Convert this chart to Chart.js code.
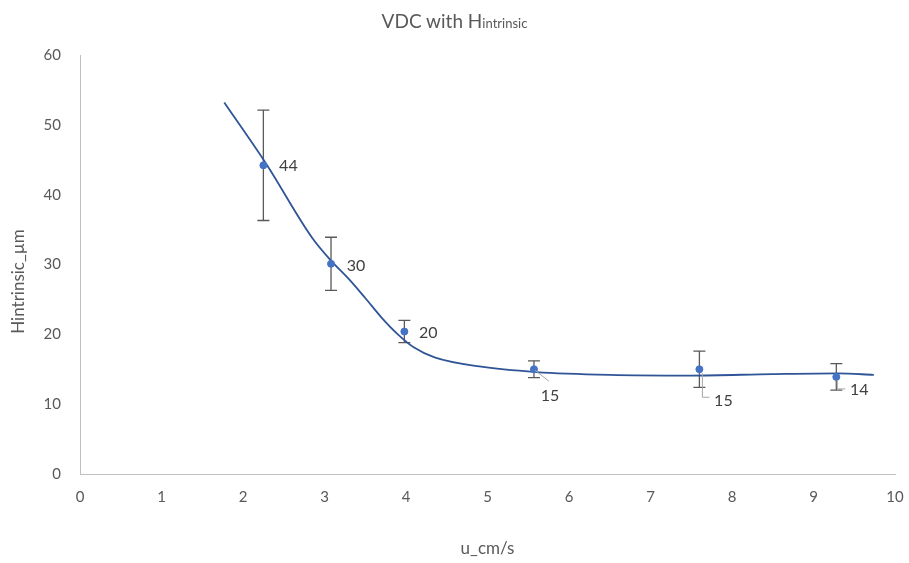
<!DOCTYPE html>
<html>
<head>
<meta charset="utf-8">
<title>VDC with Hintrinsic</title>
<script src="https://cdn.jsdelivr.net/npm/chart.js@4/dist/chart.umd.min.js"></script>
<style>
  body { margin: 0; background: #fff; }
  #wrap { position: relative; width: 909px; height: 563px; }
  #title {
    position: absolute; top: 9px; left: 0; width: 909px; text-align: center;
    font-family: Lato, "Open Sans", sans-serif; color: #595959; font-size: 19px;
  }
  #title small { font-size: 13px; }
</style>
</head>
<body>
<div id="wrap">
  <div id="title">VDC with H<small>intrinsic</small></div>
  <canvas id="chart" width="909" height="563"></canvas>
</div>
<script>
// measured points
const uValues = [2.25, 3.08, 3.98, 5.57, 7.6, 9.28];
const hValues = [44.2, 30.1, 20.4, 15.0, 15.0, 13.9];
const hErrors = [7.9, 3.8, 1.6, 1.2, 2.6, 1.9];

// trendline
const trendU = [1.77, 2.28, 2.85, 3.1, 3.3, 3.5, 3.7, 3.9, 4.1, 4.35, 4.9, 5.6, 6.5, 7.5, 8.5, 9.3, 9.74];
const trendH = [53.2, 44.5, 33.8, 30.3, 27.9, 25.2, 22.4, 20.0, 18.1, 16.7, 15.4, 14.6, 14.2, 14.1, 14.3, 14.4, 14.2];

const xTicks = [0, 1, 2, 3, 4, 5, 6, 7, 8, 9, 10];
const yTicks = [0, 10, 20, 30, 40, 50, 60];

const FONT = 'Lato, "Open Sans", sans-serif';
const yTitle = 'Hintrinsic_µm';

// label placement relative to each point (px), plus optional leader polyline
const labelStyle = [
  { dx: 25, dy: 1 },
  { dx: 25, dy: 2 },
  { dx: 24, dy: 1 },
  { dx: 16, dy: 27, leader: [[1, 1], [15, 12]] },
  { dx: 24, dy: 32, leader: [[3, 4], [3, 28], [10, 28]] },
  { dx: 23, dy: 13, leader: [[1, 3], [1, 12], [9, 12]] }
];

const errorBars = {
  id: 'errorBars',
  beforeDatasetsDraw(chart) {
    const { ctx, scales: { x, y } } = chart;
    ctx.save();
    ctx.strokeStyle = '#595959';
    ctx.lineWidth = 1.3;
    uValues.forEach((u, i) => {
      const px = x.getPixelForValue(u);
      const top = y.getPixelForValue(hValues[i] + hErrors[i]);
      const bot = y.getPixelForValue(hValues[i] - hErrors[i]);
      ctx.beginPath();
      ctx.moveTo(px, top); ctx.lineTo(px, bot);
      ctx.moveTo(px - 6, top); ctx.lineTo(px + 6, top);
      ctx.moveTo(px - 6, bot); ctx.lineTo(px + 6, bot);
      ctx.stroke();
    });
    ctx.restore();
  },
  afterDatasetsDraw(chart) {
    const { ctx, chartArea, scales: { x, y } } = chart;
    ctx.save();
    ctx.font = '16px ' + FONT;
    ctx.fillStyle = '#404040';
    ctx.textAlign = 'center';
    ctx.textBaseline = 'middle';
    uValues.forEach((u, i) => {
      const px = x.getPixelForValue(u);
      const py = y.getPixelForValue(hValues[i]);
      const s = labelStyle[i];
      if (s.leader) {
        ctx.strokeStyle = '#a6a6a6';
        ctx.lineWidth = 1;
        ctx.beginPath();
        s.leader.forEach(([lx, ly], k) => {
          if (k === 0) ctx.moveTo(px + lx, py + ly); else ctx.lineTo(px + lx, py + ly);
        });
        ctx.stroke();
      }
      ctx.fillText(String(Math.round(hValues[i])), px + s.dx, py + s.dy);
    });
    // vertical axis title, sitting a little below the middle of the plot
    ctx.translate(19, (chartArea.top + chartArea.bottom) / 2 + 17);
    ctx.rotate(-Math.PI / 2);
    ctx.font = '17px ' + FONT;
    ctx.fillStyle = '#595959';
    ctx.fillText(yTitle, 0, 0);
    ctx.restore();
  }
};

new Chart(document.getElementById('chart'), {
  type: 'scatter',
  data: {
    datasets: [
      {
        label: 'H',
        data: uValues.map((u, i) => ({ x: u, y: hValues[i] })),
        backgroundColor: '#4472C4',
        borderColor: '#4472C4',
        pointRadius: 3.5,
        order: 0
      },
      {
        label: 'trend',
        data: trendU.map((u, i) => ({ x: u, y: trendH[i] })),
        showLine: true,
        borderColor: '#2F5597',
        borderWidth: 1.8,
        pointRadius: 0,
        cubicInterpolationMode: 'monotone',
        order: 1
      }
    ]
  },
  options: {
    responsive: false,
    animation: false,
    layout: { padding: { top: 55, right: 14, left: 0, bottom: 0 } },
    plugins: { legend: { display: false }, tooltip: { enabled: false }, title: { display: false } },
    scales: {
      x: {
        type: 'linear', min: 0, max: 10,
        afterBuildTicks: s => { s.ticks = xTicks.map(v => ({ value: v })); },
        afterFit: s => { s.height = 89; s.paddingLeft = 0; s.paddingRight = 0; },
        grid: { display: false, drawTicks: false },
        border: { color: '#bfbfbf', width: 1 },
        ticks: { color: '#595959', font: { family: FONT, size: 15 }, padding: 14 },
        title: { display: true, text: 'u_cm/s', color: '#595959', font: { family: FONT, size: 17 }, padding: { bottom: 4 } }
      },
      y: {
        type: 'linear', min: 0, max: 60,
        afterBuildTicks: s => { s.ticks = yTicks.map(v => ({ value: v })); },
        afterFit: s => { s.width = 80; s.paddingTop = 0; s.paddingBottom = 0; },
        grid: { display: false, drawTicks: false },
        border: { color: '#bfbfbf', width: 1 },
        ticks: { color: '#595959', font: { family: FONT, size: 15 }, padding: 19 }
      }
    }
  },
  plugins: [errorBars]
});
</script>
</body>
</html>
